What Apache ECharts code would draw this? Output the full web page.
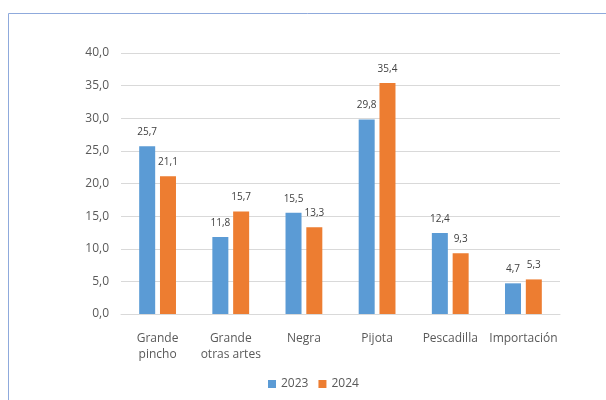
<!DOCTYPE html>
<html>
<head>
<meta charset="utf-8">
<script src="https://cdn.jsdelivr.net/npm/echarts@6/dist/echarts.min.js"></script>
<style>
  html, body { margin: 0; padding: 0; background: #fff; }
  #chart { width: 606px; height: 400px; }
</style>
</head>
<body>
<div id="chart"></div>
<script>
// categories and values
const categories = ["Grande\npincho", "Grande\notras artes", "Negra", "Pijota", "Pescadilla", "Importación"];
const values2023 = [25.7, 11.8, 15.5, 29.8, 12.4, 4.7];
const values2024 = [21.1, 15.7, 13.3, 35.4, 9.3, 5.3];
const seriesNames = ["2023", "2024"];

const fmt = (v) => v.toFixed(1).replace(".", ",");

let myChart = echarts.init(document.getElementById("chart"));
let option = {
  animation: false,
  textStyle: { fontFamily: "Open Sans" },
  graphic: [
    {
      type: "rect",
      shape: { x: 8.5, y: 13.5, width: 700, height: 500 },
      style: { fill: "none", stroke: "#8faadc", lineWidth: 1 },
      silent: true
    }
  ],
  grid: { left: 121, right: 46, top: 53, bottom: 86 },
  legend: {
    bottom: 5,
    left: 263,
    itemWidth: 8,
    itemHeight: 8,
    itemGap: 10,
    icon: "rect",
    textStyle: { color: "#595959", fontSize: 12 },
    data: seriesNames
  },
  xAxis: {
    type: "category",
    data: categories,
    axisLine: { lineStyle: { color: "#d9d9d9" } },
    axisTick: { show: false },
    axisLabel: { color: "#595959", fontSize: 12, lineHeight: 16, margin: 17, interval: 0 }
  },
  yAxis: {
    type: "value",
    min: 0,
    max: 40,
    interval: 5,
    axisLine: { show: false },
    axisTick: { show: false },
    splitLine: { lineStyle: { color: "#d9d9d9" } },
    axisLabel: { color: "#595959", fontSize: 12, margin: 12, formatter: (v) => fmt(v) }
  },
  series: [
    {
      name: seriesNames[0],
      type: "bar",
      data: values2023,
      barWidth: 16,
      barGap: "30%",
      itemStyle: { color: "#5b9bd5" },
      label: { show: true, position: "top", distance: 9, color: "#404040", fontSize: 10, formatter: (p) => fmt(p.value) }
    },
    {
      name: seriesNames[1],
      type: "bar",
      data: values2024,
      barWidth: 16,
      itemStyle: { color: "#ed7d31" },
      label: { show: true, position: "top", distance: 9, color: "#404040", fontSize: 10, formatter: (p) => fmt(p.value) }
    }
  ]
};
option && myChart.setOption(option);
</script>
</body>
</html>
